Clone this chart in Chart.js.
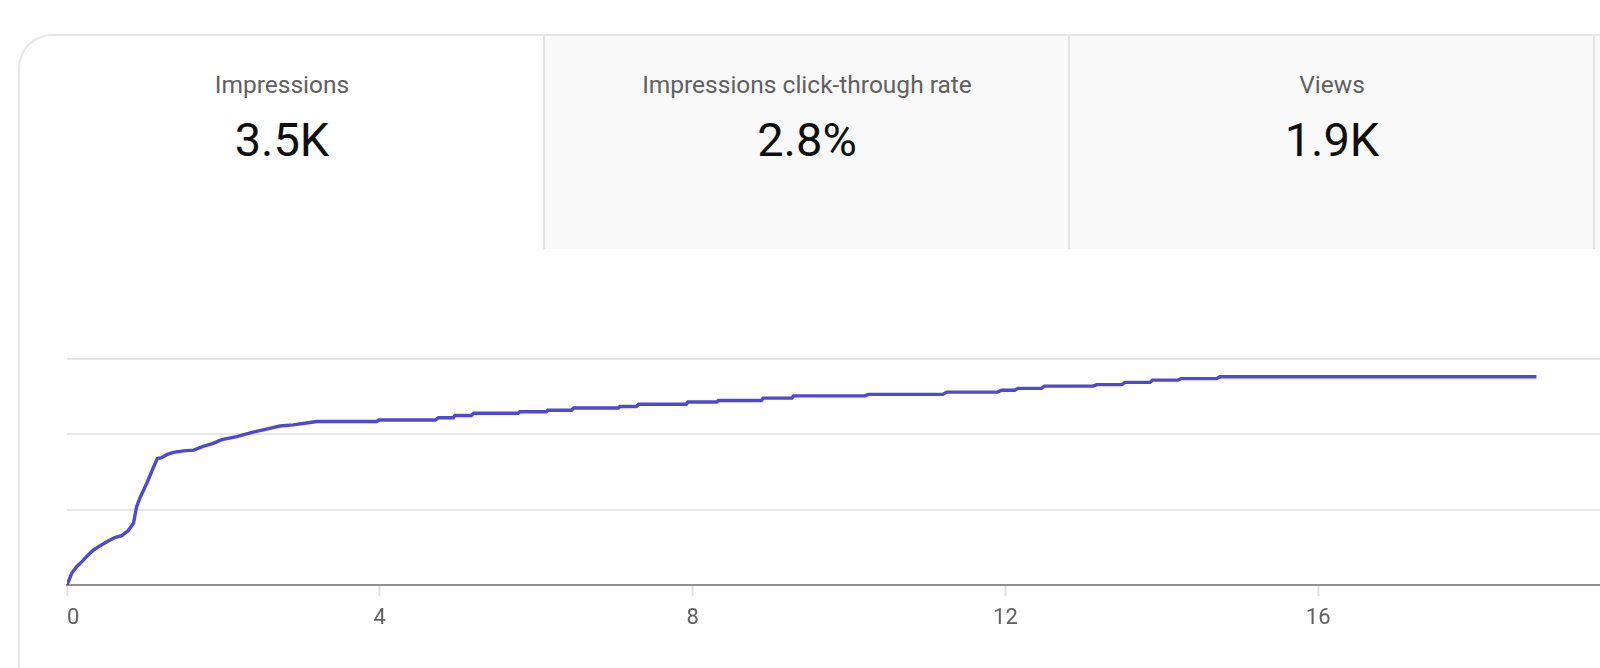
<!DOCTYPE html>
<html>
<head>
<meta charset="utf-8">
<script src="https://cdn.jsdelivr.net/npm/chart.js@4.4.1/dist/chart.umd.min.js"></script>
<style>
  html, body { margin: 0; padding: 0; width: 1600px; height: 668px; overflow: hidden; background: #ffffff; font-family: Roboto, "Noto Sans", sans-serif; }
  #card { position: absolute; left: 18px; top: 34px; width: 1800px; height: 900px; border: 2px solid #e6e6e6; border-right: none; border-bottom: none; border-top-left-radius: 34px; background: #fff; box-sizing: border-box; overflow: hidden; }
  .tab { position: absolute; top: 0; height: 213px; box-sizing: border-box; text-align: center; }
  .tab.grey { background: #f9f9f9; border-left: 2px solid #e3e3e3; }
  .tab .t { position: absolute; left: 0; right: 0; top: 37px; font-size: 24.5px; line-height: 24px; color: #606060; }
  .tab .v { position: absolute; left: 0; right: 0; top: 81px; font-size: 47px; line-height: 46px; color: #0f0f0f; }
  #wrap { position: absolute; left: 0; top: 0; width: 1700px; height: 668px; }
</style>
</head>
<body>
<div id="card">
  <div class="tab" style="left:0; width:524px;"><div class="t">Impressions</div><div class="v">3.5K</div></div>
  <div class="tab grey" style="left:523px; width:526px;"><div class="t">Impressions click-through rate</div><div class="v">2.8%</div></div>
  <div class="tab grey" style="left:1048px; width:526px;"><div class="t">Views</div><div class="v">1.9K</div></div>
  <div class="tab grey" style="left:1573px; width:526px;"></div>
</div>
<div id="wrap"><canvas id="c"></canvas></div>
<script>
// Hours since publish (x) and cumulative impressions in grid units (y)
const hours = [0, 0.06, 0.12, 0.19, 0.29, 0.34, 0.42, 0.51, 0.61, 0.70, 0.78, 0.85, 0.89, 0.93, 1.02, 1.08, 1.155, 1.21, 1.275, 1.36,
  1.49, 1.62, 1.74, 1.87, 1.98, 2.17, 2.38, 2.55, 2.72, 2.89, 3.06, 3.19, 3.96, 3.99, 4.71, 4.75, 4.94, 4.96, 5.17, 5.2,
  5.77, 5.79, 6.13, 6.15, 6.45, 6.48, 7.05, 7.07, 7.28, 7.31, 7.92, 7.94, 8.31, 8.33, 8.88, 8.90, 9.27, 9.29, 10.2, 10.25,
  11.2, 11.25, 11.9, 11.95, 12.12, 12.16, 12.46, 12.5, 13.12, 13.17, 13.49, 13.53, 13.85, 13.88, 14.21, 14.25, 14.7, 14.74, 18.79];
const impressions = [0, 0.155, 0.24, 0.31, 0.42, 0.465, 0.52, 0.575, 0.63, 0.655, 0.72, 0.82, 1.04, 1.15, 1.35, 1.50, 1.68, 1.69, 1.73, 1.76,
  1.78, 1.79, 1.84, 1.88, 1.93, 1.97, 2.03, 2.07, 2.11, 2.125, 2.15, 2.17, 2.17, 2.19, 2.19, 2.22, 2.22, 2.25, 2.25, 2.28,
  2.28, 2.30, 2.30, 2.32, 2.32, 2.35, 2.35, 2.37, 2.37, 2.40, 2.40, 2.43, 2.43, 2.45, 2.45, 2.48, 2.48, 2.51, 2.51, 2.53,
  2.53, 2.56, 2.56, 2.585, 2.585, 2.61, 2.61, 2.64, 2.64, 2.66, 2.66, 2.69, 2.69, 2.72, 2.72, 2.74, 2.74, 2.765, 2.765];
const xTicks = [0, 4, 8, 12, 16, 20];
const yGrid = [0, 1, 2, 3];

const points = hours.map((h, i) => ({ x: h, y: impressions[i] }));

new Chart(document.getElementById('c'), {
  type: 'scatter',
  data: {
    datasets: [{
      data: points,
      showLine: true,
      borderColor: '#4d49d2',
      borderWidth: 3.4,
      pointRadius: 0,
      tension: 0,
      fill: false
    }]
  },
  options: {
    responsive: true,
    maintainAspectRatio: false,
    animation: false,
    devicePixelRatio: 1,
    layout: { padding: { left: 67, right: 69, top: 359, bottom: 0 } },
    plugins: { legend: { display: false }, tooltip: { enabled: false } },
    scales: {
      x: {
        type: 'linear',
        min: xTicks[0],
        max: xTicks[xTicks.length - 1],
        afterBuildTicks: (s) => { s.ticks = xTicks.map(v => ({ value: v })); },
        afterFit: (s) => { s.height = 83; },
        ticks: { color: '#606060', font: { family: 'Roboto', size: 22 }, padding: 9, maxRotation: 0, align: 'inner' },
        grid: { drawOnChartArea: false, drawTicks: true, tickLength: 11, tickColor: '#e0e0e0', tickWidth: 2 },
        border: { display: true, color: '#909090', width: 2 }
      },
      y: {
        min: yGrid[0],
        max: yGrid[yGrid.length - 1],
        afterBuildTicks: (s) => { s.ticks = yGrid.map(v => ({ value: v })); },
        afterFit: (s) => { s.width = 0; },
        ticks: { display: false },
        grid: { color: (ctx) => ctx.tick && ctx.tick.value === 0 ? 'rgba(0,0,0,0)' : '#e6e6e6', lineWidth: 2, drawTicks: false },
        border: { display: false }
      }
    }
  }
});
</script>
</body>
</html>
